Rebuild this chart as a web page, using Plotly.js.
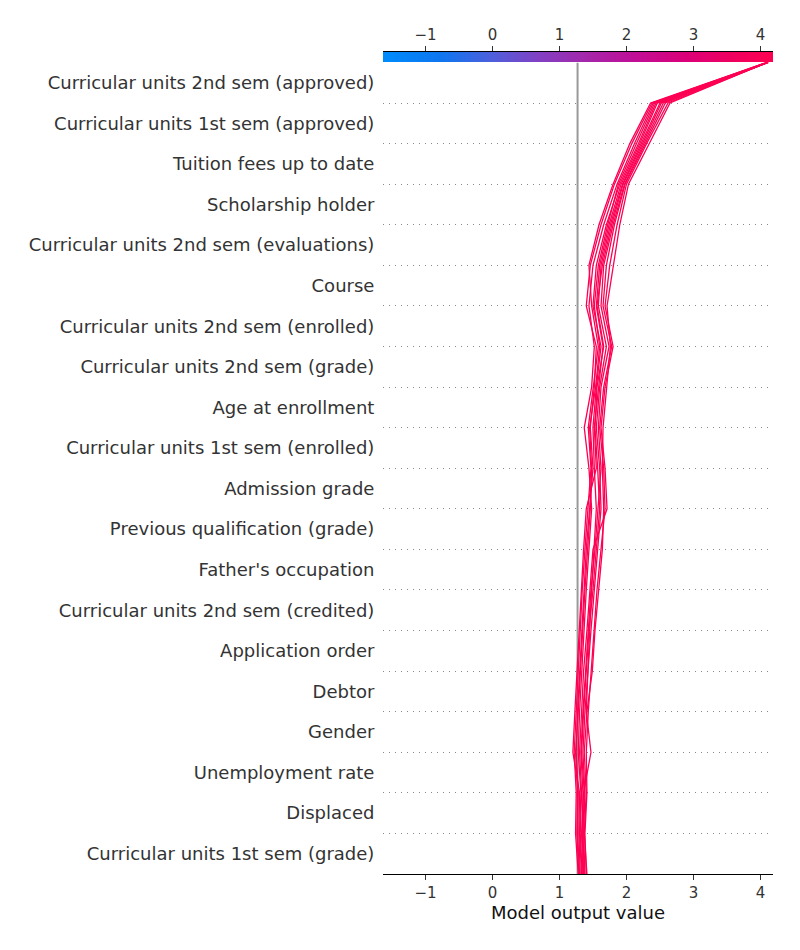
<!DOCTYPE html>
<html><head><meta charset="utf-8">
<script src="https://cdn.plot.ly/plotly-3.0.1.min.js"></script>
<style>html,body{margin:0;padding:0;background:#fff}</style>
</head><body><div id="chart" style="width:800px;height:950px"></div>
<script>
// Features, top to bottom as displayed
const features = [
  "Curricular units 2nd sem (approved)",
  "Curricular units 1st sem (approved)",
  "Tuition fees up to date",
  "Scholarship holder",
  "Curricular units 2nd sem (evaluations)",
  "Course",
  "Curricular units 2nd sem (enrolled)",
  "Curricular units 2nd sem (grade)",
  "Age at enrollment",
  "Curricular units 1st sem (enrolled)",
  "Admission grade",
  "Previous qualification (grade)",
  "Father's occupation",
  "Curricular units 2nd sem (credited)",
  "Application order",
  "Debtor",
  "Gender",
  "Unemployment rate",
  "Displaced",
  "Curricular units 1st sem (grade)"
];
const baseValue = 1.27;
// Cumulative model output of each observation at each row boundary, bottom (0) to top (20)
const obs01 = [1.30,1.27,1.28,1.25,1.27,1.30,1.33,1.36,1.40,1.45,1.50,1.46,1.52,1.55,1.40,1.46,1.62,1.82,2.08,2.38,4.10];
const obs02 = [1.33,1.30,1.32,1.28,1.30,1.33,1.36,1.40,1.44,1.48,1.44,1.37,1.48,1.52,1.44,1.50,1.66,1.86,2.12,2.40,4.09];
const obs03 = [1.35,1.33,1.36,1.47,1.40,1.42,1.45,1.48,1.52,1.55,1.52,1.50,1.55,1.62,1.50,1.55,1.70,1.90,2.18,2.44,4.11];
const obs04 = [1.28,1.24,1.25,1.22,1.25,1.28,1.30,1.34,1.38,1.42,1.47,1.43,1.50,1.58,1.48,1.44,1.59,1.80,2.05,2.36,4.10];
const obs05 = [1.38,1.36,1.38,1.35,1.38,1.42,1.47,1.52,1.57,1.62,1.60,1.55,1.60,1.70,1.58,1.62,1.76,1.94,2.22,2.50,4.12];
const obs06 = [1.40,1.38,1.41,1.40,1.43,1.47,1.51,1.56,1.62,1.68,1.66,1.60,1.66,1.78,1.65,1.70,1.82,1.98,2.28,2.58,4.10];
const obs07 = [1.31,1.29,1.30,1.20,1.23,1.26,1.29,1.32,1.36,1.40,1.55,1.52,1.58,1.65,1.55,1.60,1.74,1.92,2.20,2.46,4.11];
const obs08 = [1.36,1.34,1.35,1.32,1.35,1.39,1.43,1.47,1.53,1.58,1.62,1.58,1.62,1.74,1.62,1.66,1.80,1.97,2.26,2.55,4.09];
const obs09 = [1.34,1.31,1.33,1.30,1.33,1.36,1.41,1.45,1.50,1.71,1.68,1.62,1.68,1.80,1.68,1.75,1.86,2.00,2.30,2.62,4.10];
const obs10 = [1.29,1.26,1.27,1.24,1.28,1.31,1.35,1.38,1.42,1.46,1.48,1.45,1.54,1.60,1.52,1.58,1.72,1.88,2.15,2.42,4.11];
const obs11 = [1.37,1.35,1.37,1.33,1.36,1.40,1.44,1.50,1.55,1.60,1.57,1.53,1.56,1.66,1.56,1.64,1.78,1.95,2.24,2.52,4.12];
const obs12 = [1.41,1.37,1.40,1.37,1.41,1.49,1.53,1.58,1.64,1.66,1.64,1.65,1.71,1.76,1.71,1.80,1.90,2.03,2.34,2.65,4.10];
const observations = [obs01,obs02,obs03,obs04,obs05,obs06,obs07,obs08,obs09,obs10,obs11,obs12];
const xTicks = [-1,0,1,2,3,4];
const xRange = [-1.634, 4.187];
const colorStops = [
  [0,'#008bfb'],[0.15,'#0f76f0'],[0.28,'#4e5fdc'],[0.4,'#8240c4'],
  [0.52,'#a428aa'],[0.64,'#bf0f98'],[0.78,'#dc0078'],[0.9,'#f0005f'],[1,'#ff0052']
];

function hexToRgb(h){return [parseInt(h.slice(1,3),16),parseInt(h.slice(3,5),16),parseInt(h.slice(5,7),16)];}
function colorAt(v){
  let t=(v-xRange[0])/(xRange[1]-xRange[0]); t=Math.max(0,Math.min(1,t));
  for(let i=1;i<colorStops.length;i++){
    if(t<=colorStops[i][0]){
      const a=colorStops[i-1],b=colorStops[i];
      const f=(t-a[0])/(b[0]-a[0]);
      const ca=hexToRgb(a[1]),cb=hexToRgb(b[1]);
      const c=ca.map((x,k)=>Math.round(x+(cb[k]-x)*f));
      return 'rgb('+c.join(',')+')';
    }
  }
  return colorStops[colorStops.length-1][1];
}

const nLevels = features.length;
const levels = Array.from({length:nLevels+1},(_,i)=>i);
const featuresBottomUp = features.slice().reverse();
const labelPos = featuresBottomUp.map((_,i)=>i+0.5);

const traces = observations.map(o=>({
  type:'scatter', mode:'lines', x:o, y:levels, xaxis:'x', yaxis:'y',
  line:{color:colorAt(o[o.length-1]), width:1.3}, hoverinfo:'skip', showlegend:false
}));

// colour bar strip along the top
const nGrad = 300;
const gx = Array.from({length:nGrad},(_,i)=>xRange[0]+(xRange[1]-xRange[0])*i/(nGrad-1));
traces.push({
  type:'heatmap', x:gx, y:[0], z:[gx], xaxis:'x2', yaxis:'y2',
  colorscale:colorStops, zmin:xRange[0], zmax:xRange[1], showscale:false, hoverinfo:'skip'
});

const mainTop = 0.9873;
const layout = {
  width:800, height:950,
  margin:{l:383, r:27, t:52, b:76},
  paper_bgcolor:'#fff', plot_bgcolor:'#fff',
  font:{family:'DejaVu Sans, sans-serif', color:'#333'},
  showlegend:false,
  xaxis:{
    range:xRange, domain:[0,1], anchor:'y', tickvals:xTicks, ticks:'outside', ticklen:5, tickcolor:'#333',
    showline:true, linecolor:'#000', linewidth:1, showgrid:false, zeroline:false,
    tickfont:{size:15, color:'#333'},
    title:{text:'Model output value', font:{size:18, color:'#111'}, standoff:5}
  },
  yaxis:{
    range:[0,nLevels], domain:[0,mainTop], anchor:'x', tickvals:labelPos, ticktext:featuresBottomUp,
    ticks:'outside', ticklen:4, tickcolor:'rgba(0,0,0,0)', tickfont:{size:18, color:'#333'},
    showline:false, showgrid:false, zeroline:false,
    minor:{tickmode:'array', tickvals:levels.slice(1,nLevels), showgrid:true, gridcolor:'#8a8a8a', griddash:'1px,5px', gridwidth:1, ticks:''}
  },
  xaxis2:{
    range:xRange, domain:[0,1], anchor:'y2', side:'top', tickvals:xTicks, ticks:'outside', ticklen:5, tickcolor:'#333',
    showline:true, linecolor:'#000', linewidth:1, showgrid:false, zeroline:false, tickfont:{size:15, color:'#333'}
  },
  yaxis2:{domain:[mainTop,1], range:[-0.5,0.5], anchor:'x2', visible:false, fixedrange:true},
  shapes:[{type:'line', xref:'x', yref:'y', x0:baseValue, x1:baseValue, y0:0, y1:nLevels,
    line:{color:'#999', width:2}, layer:'below'}]
};
Plotly.newPlot('chart', traces, layout, {displayModeBar:false, staticPlot:true});
</script></body></html>
